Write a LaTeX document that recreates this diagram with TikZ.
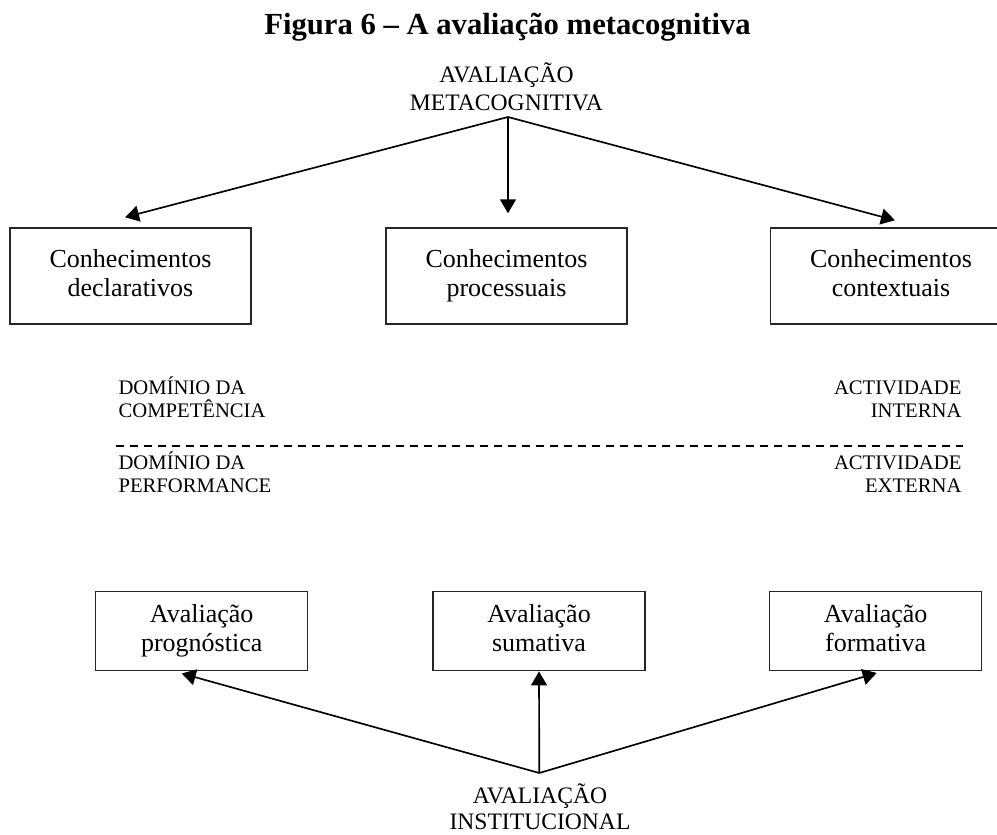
\documentclass[tikz,border=0pt]{standalone}
\usepackage{fontspec}
\setmainfont{Liberation Serif}
\usetikzlibrary{arrows.meta,calc}

\begin{document}
\begin{tikzpicture}[x=0.75pt,y=-0.75pt,
  boxbig/.style={draw=black!85, line width=1.1pt, rectangle, inner sep=0pt,
    minimum width=180.75pt, minimum height=72pt, align=center,
    font=\fontsize{19.5}{22.2}\selectfont},
  boxsmall/.style={draw=black!85, line width=1.1pt, rectangle, inner sep=0pt,
    minimum width=159pt, minimum height=59.25pt, align=center,
    font=\fontsize{19.5}{22.2}\selectfont},
  % two-line labels: the base anchor sits on the last line
  headlabel/.style={inner sep=0pt, align=center, anchor=base,
    font=\fontsize{17.7}{20.5}\selectfont},
  sidelabel/.style={inner sep=0pt, anchor=base, font=\fontsize{15.5}{17.3}\selectfont},
  arr/.style={-{Triangle[length=10.5pt,width=12pt]}, line width=1.25pt, draw=black},
  dashline/.style={line width=1.1pt, dash pattern=on 6pt off 4.5pt}]

\useasboundingbox (0,0) rectangle (997,835);
\clip (0,0) rectangle (997,835);

% title
\node[inner sep=0pt, anchor=base, font=\fontsize{23}{26}\selectfont\bfseries]
  (title) at (507.5,35) {Figura 6 – A avaliação metacognitiva};

% top label and the three kinds of knowledge
\node[headlabel] (meta) at (506.5,110) {AVALIAÇÃO\\METACOGNITIVA};
\coordinate (mtop) at (508,117);

\node[boxbig] (decl) at (130.5,276) {Conhecimentos\strut\\declarativos\strut};
\node[boxbig] (proc) at (506.5,276) {Conhecimentos\strut\\processuais\strut};
\node[boxbig] (cont) at (891,276) {Conhecimentos\strut\\contextuais\strut};

\draw[arr] (mtop) -- ([shift={(-5.5,-10)}]decl.north);
\draw[arr] (mtop) -- ([shift={(1.5,-14)}]proc.north);
\draw[arr] (mtop) -- ([shift={(4,-7)}]cont.north);

% competence / performance split
\node[sidelabel, anchor=base west] (dom1) at (118.3,394) {DOMÍNIO DA};
\node[sidelabel, anchor=base west] (comp) at (118.3,417) {COMPETÊNCIA};
\node[sidelabel, anchor=base west] (dom2) at (118.3,469.5) {DOMÍNIO DA};
\node[sidelabel, anchor=base west] (perf) at (118.3,492) {PERFORMANCE};

\node[sidelabel, anchor=base east] (act1) at (961.7,394) {ACTIVIDADE};
\node[sidelabel, anchor=base east] (intn) at (961.7,417) {INTERNA};
\node[sidelabel, anchor=base east] (act2) at (961.7,469.5) {ACTIVIDADE};
\node[sidelabel, anchor=base east] (extn) at (961.7,492) {EXTERNA};

\coordinate (dashl) at (116,446);
\coordinate (dashr) at (963,446);
\draw[dashline] (dashl) -- (dashr);

% institutional evaluation
\node[boxsmall] (prog) at (201.7,631.2) {Avaliação\strut\\prognóstica\strut};
\node[boxsmall] (suma) at (539,631.2) {Avaliação\strut\\sumativa\strut};
\node[boxsmall] (form) at (875.7,631.2) {Avaliação\strut\\formativa\strut};

\coordinate (ibot) at (539.3,773);
\node[headlabel, font=\fontsize{17.7}{19.5}\selectfont] (inst) at (540,829) {AVALIAÇÃO\\INSTITUCIONAL};

\draw[arr] (ibot) -- ([shift={(-20,2)}]prog.south);
\draw[arr] (ibot) -- (suma.south);
\draw[arr] (ibot) -- ([shift={(1,1.5)}]form.south);

\end{tikzpicture}
\end{document}
